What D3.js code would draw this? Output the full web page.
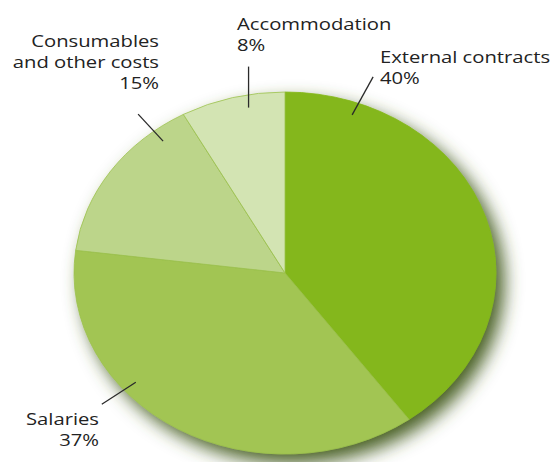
<!DOCTYPE html>
<html><head><meta charset="utf-8">
<script src="https://cdn.jsdelivr.net/npm/d3@7"></script>
<style>html,body{margin:0;padding:0;background:#fff;}svg{display:block;}</style>
</head><body>
<svg id="chart" width="556" height="462"></svg>
<script>
// Data
const categories = ["External contracts", "Salaries", "Consumables and other costs", "Accommodation"];
const values = [40, 37, 15, 8];
const labelLines = [
  ["External contracts", "40%"],
  ["Salaries", "37%"],
  ["Consumables", "and other costs", "15%"],
  ["Accommodation", "8%"]
];
const colors = ["#84b71a", "#a2c553", "#bcd58a", "#d3e4b3"];

// Layout
const W = 556, H = 462;
const cx = 285, cy = 273, rx = 211, ry = 181;
const sx = rx / ry;
const fontSize = 17;
const lineH = 21;
const layout = [
  {ang: 20,    dx: 21,  dy: -38, tx: 380, ty: 63,  anchor: "start"},
  {ang: 229.5, dx: -34, dy: 22,  tx: 99,  ty: 425, anchor: "end"},
  {ang: 321.6, dx: -25, dy: -27, tx: 159, ty: 47,  anchor: "end"},
  {ang: 349.3, dx: 0,   dy: -41, tx: 237, ty: 30,  anchor: "start"}
];
const inset = 0.93;

const svg = d3.select("#chart");
const defs = svg.append("defs");
const f = defs.append("filter").attr("id", "shadow")
  .attr("x", "-20%").attr("y", "-20%").attr("width", "140%").attr("height", "140%");
f.append("feGaussianBlur").attr("in", "SourceAlpha").attr("stdDeviation", 9).attr("result", "b");
f.append("feOffset").attr("in", "b").attr("dx", 8).attr("dy", 9).attr("result", "o");
f.append("feFlood").attr("flood-color", "#4a6126").attr("flood-opacity", 1).attr("result", "c");
f.append("feComposite").attr("in", "c").attr("in2", "o").attr("operator", "in").attr("result", "s");
const m = f.append("feMerge");
m.append("feMergeNode").attr("in", "s");
m.append("feMergeNode").attr("in", "SourceGraphic");

const pie = d3.pie().sort(null).value(d => d);
const arcs = pie(values);
const arc = d3.arc().innerRadius(0).outerRadius(ry);

const outer = svg.append("g").attr("transform", `translate(${cx},${cy})`).attr("filter", "url(#shadow)");
const g = outer.append("g").attr("transform", `scale(${sx},1)`);
g.selectAll("path").data(arcs).join("path")
  .attr("d", arc)
  .attr("fill", (d, i) => colors[i])
  .attr("stroke", (d, i) => i === 0 ? colors[0] : "#9cc24c")
  .attr("stroke-width", 0.8)
  .attr("vector-effect", "non-scaling-stroke");

function pt(angDeg, frac) {
  const a = angDeg * Math.PI / 180;
  return [cx + rx * frac * Math.sin(a), cy - ry * frac * Math.cos(a)];
}

layout.forEach((L, i) => {
  const p = pt(L.ang, inset);
  svg.append("line")
    .attr("x1", p[0]).attr("y1", p[1])
    .attr("x2", p[0] + L.dx).attr("y2", p[1] + L.dy)
    .attr("stroke", "#2a2a2a").attr("stroke-width", 1.3);
});

labelLines.forEach((lines, i) => {
  const L = layout[i];
  lines.forEach((t, j) => {
    svg.append("text")
      .attr("transform", `translate(${L.tx},${L.ty + j * lineH}) scale(1.19,1)`)
      .attr("text-anchor", L.anchor)
      .attr("font-family", "'Open Sans', sans-serif")
      .attr("font-size", fontSize)
      .attr("fill", "#222")
      .text(t);
  });
});
</script>
</body></html>
